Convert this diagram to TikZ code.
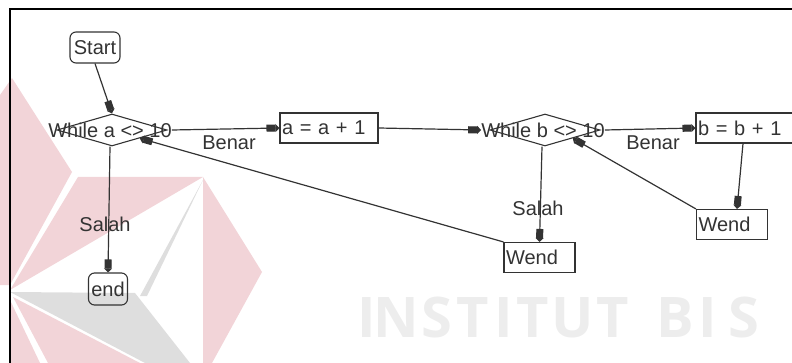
\documentclass[tikz,border=0pt]{standalone}
\usepackage{fontspec}
\setmainfont{Liberation Sans}
\newfontfamily\wmfont{Open Sans}
\usetikzlibrary{arrows.meta,shapes.geometric,calc}

\definecolor{ink}{HTML}{333333}
\definecolor{wmpink}{HTML}{F2D4D8}
\definecolor{wmgrey}{HTML}{DEDEDE}
\definecolor{wmtext}{HTML}{EDEDED}

\begin{document}
\begin{tikzpicture}[x=1pt,y=-1pt,
  font=\fontsize{20}{22}\selectfont,
  flow/.style={draw=ink, line width=1.2pt,
    -{Rectangle[length=9pt,width=7pt]Triangle[length=4pt,width=8pt]}},
  terminal/.style={draw=ink, line width=1.1pt, rounded corners=6pt,
    inner sep=0pt, text=ink},
  decision/.style={draw=ink, line width=1.1pt, shape=diamond,
    minimum width=110pt, minimum height=32pt, inner sep=0pt},
  dtext/.style={inner sep=0pt, text=ink},
  stmt/.style={draw=ink, line width=1.1pt, minimum height=30pt,
    inner sep=2pt, align=left, text=ink},
  lbl/.style={inner sep=0pt, text=ink},
  wmletter/.style={inner sep=0pt, anchor=base, text=wmtext,
    font=\wmfont\bfseries\fontsize{56}{60}\selectfont}]

\useasboundingbox (0,0) rectangle (792,363);
\clip (0,0) rectangle (792,363);

% faint logo in the background
\fill[wmpink] (0,95) -- (12,78) -- (72,172) -- (10,285) -- (0,285) -- cycle;
\fill[wmpink] (78,177) -- (203,177) -- (10,290) -- cycle;
\fill[wmpink] (203,177) -- (262,272) -- (212,363) -- (203,363) -- cycle;
\fill[wmgrey] (203,180) -- (140,296) -- (147,296) -- cycle;
\fill[wmgrey] (10,292) -- (135,293) -- (190,363) -- (145,363) -- cycle;
\fill[wmpink] (13,297) -- (140,363) -- (48,363) -- cycle;
\fill[wmpink] (10,300) -- (40,363) -- (10,363) -- cycle;

% faint lettering along the bottom
\foreach \ch/\cx [count=\i] in {I/367,N/396,S/436.5,T/473,I/504,T/532.5,U/572.5,T/612.5,B/675,I/708,S/744}
  \node[wmletter] (wm\i) at (\cx,337) {\ch};

% frame
\draw[black, line width=2pt] (10,364) -- (10,9) -- (793,9);

% nodes
\node[terminal, minimum width=50pt, minimum height=31pt] (start) at (95,47.5) {Start};

\node[decision] (d1) at (112,130) {};
\node[dtext] (d1t) at (110,130) {While a <> 10};

\node[stmt, text width=94pt] (inca) at (329,128) {a = a + 1};

\node[decision] (d2) at (545,130) {};
\node[dtext] (d2t) at (543,130) {While b <> 10};

\node[stmt, text width=94pt] (incb) at (745,128) {b = b + 1};

\node[stmt, text width=67pt] (wend2) at (732,224.5) {Wend};
\node[stmt, text width=67pt] (wend1) at (539.5,257.5) {Wend};

\node[terminal, minimum width=39pt, minimum height=32pt] (stop) at (108,289) {end};

% connectors
\draw[flow] (start.south) -- (d1.north);
\draw[flow] (d1t.east) -- (inca.west);
\draw[flow] (inca.east) -- (d2t.west);
\draw[flow] (d2t.east) -- (incb.west);
\draw[flow] ([xshift=-2pt]incb.south) -- ([xshift=5pt]wend2.north);
\draw[flow] (wend2.north west) -- (d2.south east);
\draw[flow] ([xshift=-3pt]d2.south) -- (wend1.north);
\draw[flow] (wend1.north west) -- (d1.south east);
\draw[flow] ([xshift=-2pt]d1.south) -- (stop.north);

% branch labels
\node[lbl] (benar1) at (229,143) {Benar};
\node[lbl] (benar2) at (653,143) {Benar};
\node[lbl] (salah1) at (105,224) {Salah};
\node[lbl] (salah2) at (538,208) {Salah};

\end{tikzpicture}
\end{document}
